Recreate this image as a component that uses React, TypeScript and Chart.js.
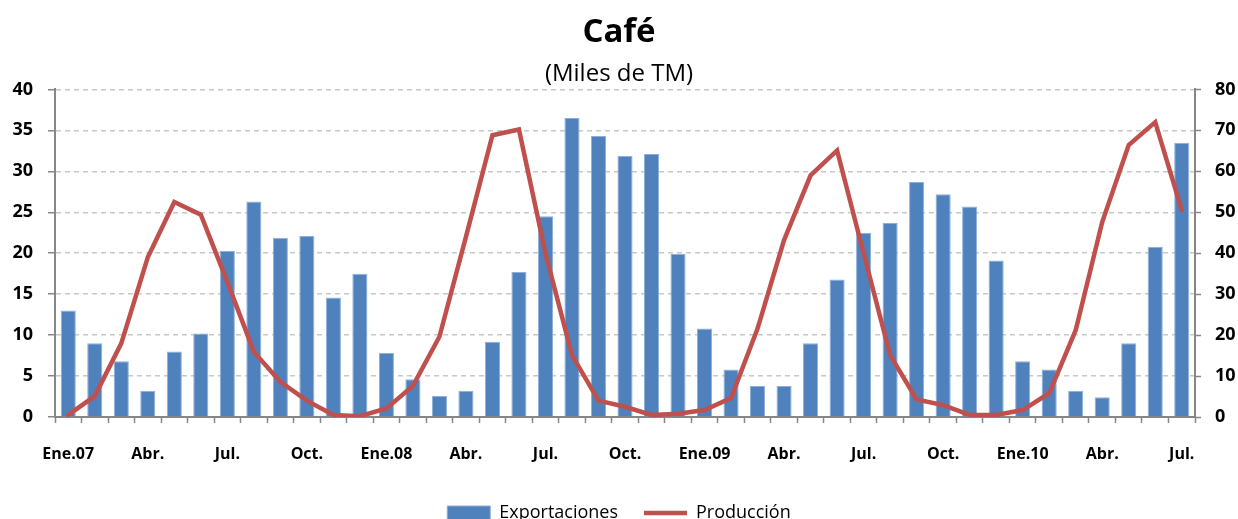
import React, { useEffect, useRef } from "react";
import { Chart, registerables } from "chart.js";

Chart.register(...registerables);

const categories = [
  "Ene.07", "Feb.07", "Mar.07", "Abr.07", "May.07", "Jun.07", "Jul.07", "Ago.07", "Sep.07", "Oct.07", "Nov.07", "Dic.07",
  "Ene.08", "Feb.08", "Mar.08", "Abr.08", "May.08", "Jun.08", "Jul.08", "Ago.08", "Sep.08", "Oct.08", "Nov.08", "Dic.08",
  "Ene.09", "Feb.09", "Mar.09", "Abr.09", "May.09", "Jun.09", "Jul.09", "Ago.09", "Sep.09", "Oct.09", "Nov.09", "Dic.09",
  "Ene.10", "Feb.10", "Mar.10", "Abr.10", "May.10", "Jun.10", "Jul.10",
];

const tickLabels = [
  "Ene.07", "", "", "Abr.", "", "", "Jul.", "", "", "Oct.", "", "",
  "Ene.08", "", "", "Abr.", "", "", "Jul.", "", "", "Oct.", "", "",
  "Ene.09", "", "", "Abr.", "", "", "Jul.", "", "", "Oct.", "", "",
  "Ene.10", "", "", "Abr.", "", "", "Jul.",
];

const exportaciones = [
  13.0, 9.0, 6.8, 3.2, 8.0, 10.2, 20.3, 26.3, 21.9, 22.1, 14.6, 17.5,
  7.8, 4.6, 2.6, 3.2, 9.2, 17.7, 24.5, 36.5, 34.3, 31.9, 32.1, 19.9,
  10.8, 5.8, 3.8, 3.8, 9.0, 16.8, 22.5, 23.7, 28.7, 27.2, 25.7, 19.1,
  6.8, 5.8, 3.2, 2.4, 9.0, 20.8, 33.5,
];

const produccion = [
  0.5, 5.1, 18.0, 39.0, 52.5, 49.4, 33.0, 15.9, 8.6, 4.0, 0.5, 0.2,
  2.1, 7.6, 19.6, 44.0, 68.8, 70.2, 40.0, 15.1, 4.0, 2.5, 0.5, 0.8,
  1.7, 4.6, 21.6, 43.2, 59.0, 65.1, 40.0, 15.1, 4.3, 2.9, 0.5, 0.5,
  1.7, 5.8, 21.2, 47.6, 66.4, 72.0, 50.5,
];

const FONT = "'Open Sans', 'DejaVu Sans', sans-serif";
const AXIS_GRAY = "#868686";

export default function App() {
  const ref = useRef<HTMLCanvasElement | null>(null);

  useEffect(() => {
    if (!ref.current) return;
    const chart = new Chart(ref.current, {
      type: "bar",
      data: {
        labels: categories,
        datasets: [
          {
            type: "bar",
            label: "Exportaciones",
            data: exportaciones,
            backgroundColor: "#4F81BD",
            borderColor: "#8DB0DA",
            borderWidth: 1,
            barPercentage: 0.57,
            categoryPercentage: 1,
            yAxisID: "y",
            order: 1,
            pointStyle: "rect",
          } as any,
          {
            type: "line",
            label: "Producción",
            data: produccion,
            borderColor: "#C0504D",
            backgroundColor: "#C0504D",
            borderWidth: 4.5,
            borderCapStyle: "round",
            borderJoinStyle: "miter",
            pointRadius: 0,
            tension: 0,
            yAxisID: "y2",
            order: 0,
            pointStyle: "line",
          } as any,
        ],
      },
      options: {
        animation: false,
        responsive: false,
        devicePixelRatio: 1,
        layout: { padding: { top: 0, left: 0, right: 0, bottom: 1 } },
        plugins: {
          tooltip: { enabled: false },
          title: {
            display: true,
            text: "Café",
            color: "#000",
            font: { family: FONT, size: 33, weight: "bold" },
            padding: { top: 13, bottom: 7 },
          },
          subtitle: {
            display: true,
            text: "(Miles de TM)",
            color: "#000",
            font: { family: FONT, size: 24, weight: "normal" },
            padding: { top: 0, bottom: 1 },
          },
          legend: {
            display: true,
            position: "bottom",
            labels: {
              usePointStyle: true,
              pointStyleWidth: 43,
              boxHeight: 14,
              padding: 26,
              color: "#000",
              font: { family: FONT, size: 18 },
              sort: (a: any, b: any) => a.datasetIndex - b.datasetIndex,
            },
          },
        },
        scales: {
          x: {
            offset: true,
            grid: {
              display: true,
              offset: true,
              drawOnChartArea: false,
              drawTicks: true,
              tickLength: 6,
              tickColor: AXIS_GRAY,
              tickWidth: 1.5,
            },
            border: { display: true, color: AXIS_GRAY, width: 2 },
            ticks: {
              autoSkip: false,
              maxRotation: 0,
              minRotation: 0,
              padding: 22,
              color: "#000",
              font: { family: FONT, size: 16, weight: "bold" },
              callback: (_v: any, i: number) => tickLabels[i],
            },
            afterFit: (scale: any) => {
              scale.height = 61;
            },
          },
          y: {
            position: "left",
            min: 0,
            max: 40,
            ticks: {
              stepSize: 5,
              padding: 15,
              color: "#000",
              font: { family: FONT, size: 18, weight: "bold" },
            },
            grid: {
              color: "#C8C8C8",
              lineWidth: 1.5,
              tickLength: 7,
              tickColor: AXIS_GRAY,
              tickBorderDash: [],
              tickWidth: 1.5,
            },
            border: { display: true, color: AXIS_GRAY, width: 2, dash: [5, 4] } as any,
            afterFit: (scale: any) => {
              scale.width = 55;
            },
          },
          y2: {
            position: "right",
            min: 0,
            max: 80,
            ticks: {
              stepSize: 10,
              padding: 14,
              color: "#000",
              font: { family: FONT, size: 18, weight: "bold" },
            },
            grid: {
              drawOnChartArea: false,
              drawTicks: true,
              tickLength: 6,
              tickColor: AXIS_GRAY,
              tickWidth: 1.5,
            },
            border: { display: true, color: AXIS_GRAY, width: 2 },
            afterFit: (scale: any) => {
              scale.width = 43;
            },
          },
        },
      } as any,
    });
    return () => chart.destroy();
  }, []);

  return (
    <div style={{ position: "fixed", left: 0, top: 0, width: 1238, height: 533, background: "#fff" }}>
      <canvas ref={ref} width={1238} height={533} style={{ display: "block" }} />
    </div>
  );
}
